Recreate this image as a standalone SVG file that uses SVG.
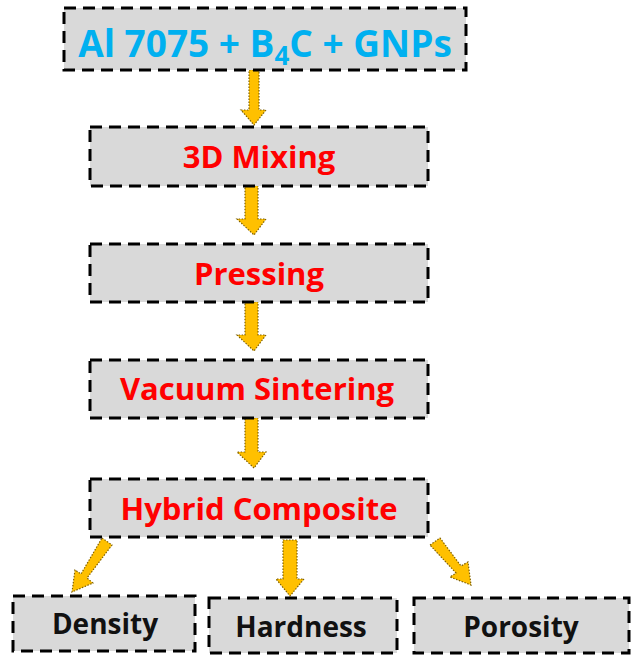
<svg xmlns="http://www.w3.org/2000/svg" width="633" height="657" viewBox="0 0 633 657">
<style>
.box{fill:#d9d9d9;stroke:#000;stroke-width:3;stroke-dasharray:12 7}
.arr{fill:#ffc000;stroke:#7f6000;stroke-width:1.2;stroke-dasharray:1.5 1.5}
text{font-family:"Open Sans","Liberation Sans",sans-serif;font-weight:bold;text-anchor:middle}
.red{fill:#ff0000;font-size:31px}
.blk{fill:#111;font-size:28px}
</style>
<rect width="633" height="657" fill="#fff"/>
<g id="connectors">
<polygon class="arr" points="249,70 259,70 259,110 266,110 254,125 241,110 249,110"/>
<polygon class="arr" points="245,186 258,186 258,219 266,219 254,235 237,219 245,219"/>
<polygon class="arr" points="245,302 258,302 258,335 266,335 254,351 237,335 245,335"/>
<polygon class="arr" points="245,418 258,418 258,452 266,452 254,468 237,452 245,452"/>
<polygon class="arr" points="283,540 297,540 297,579 304,579 290,596 276,579 283,579"/>
<polygon class="arr" points="102,538 112,545 87,578 93,583 72,592 75,570 81,574"/>
<polygon class="arr" points="430,545 440,538 461,566 468,562 471,585 450,577 456,573"/>
</g>
<g id="n1"><rect class="box" x="64" y="8" width="402" height="62"/>
<text x="265" y="57" style="fill:#00b0f0;font-size:37px">Al 7075 + B<tspan font-size="26" dy="8">4</tspan><tspan dy="-8">C + GNPs</tspan></text></g>
<g id="n2"><rect class="box" x="90" y="127" width="338" height="59"/><text class="red" x="259" y="168">3D Mixing</text></g>
<g id="n3"><rect class="box" x="90" y="244" width="338" height="58"/><text class="red" x="259" y="285">Pressing</text></g>
<g id="n4"><rect class="box" x="90" y="360" width="338" height="58"/><text class="red" x="257" y="400">Vacuum Sintering</text></g>
<g id="n5"><rect class="box" x="90" y="479" width="338" height="58"/><text class="red" x="259" y="520">Hybrid Composite</text></g>
<g id="n6"><rect class="box" x="13" y="596" width="182" height="55"/><text class="blk" x="105" y="634">Density</text></g>
<g id="n7"><rect class="box" x="209" y="598" width="188" height="55"/><text class="blk" x="301" y="637">Hardness</text></g>
<g id="n8"><rect class="box" x="414" y="598" width="215" height="55"/><text class="blk" x="521" y="637">Porosity</text></g>
</svg>
